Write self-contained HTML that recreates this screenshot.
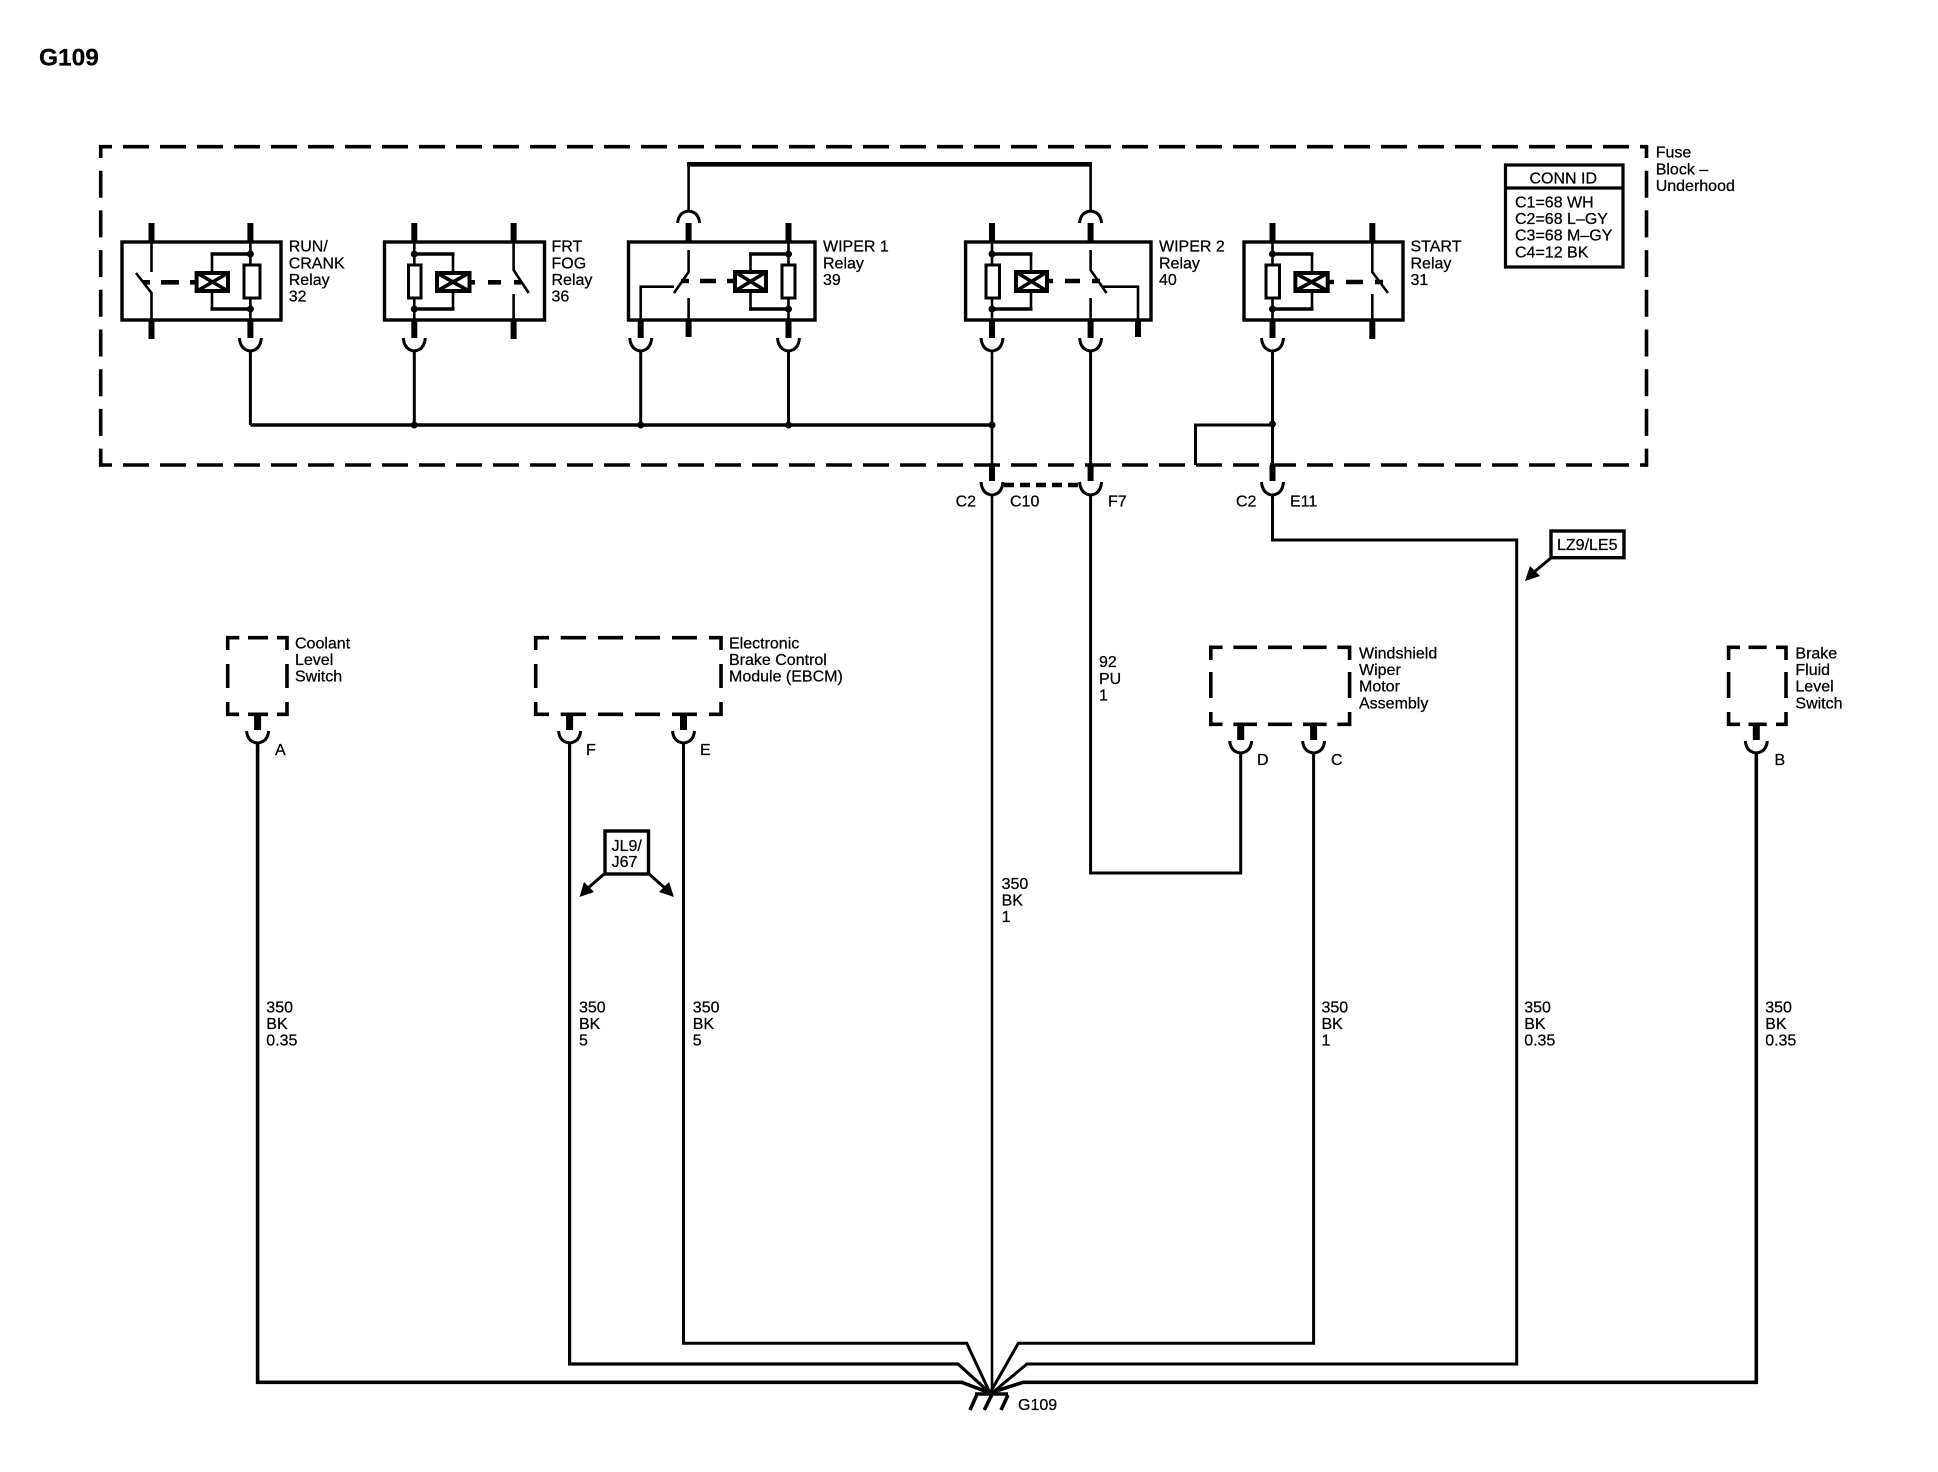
<!DOCTYPE html>
<html><head><meta charset="utf-8"><style>
html,body{margin:0;padding:0;background:#fff;width:1938px;height:1472px;overflow:hidden}
svg{display:block}
text{font-family:"Liberation Sans",sans-serif;font-size:16px;fill:#000;stroke:#000;stroke-width:.25}
.l path,.l line,.l rect{stroke:#000;fill:none}
</style></head><body>
<svg width="1938" height="1472" viewBox="0 0 1938 1472" xmlns="http://www.w3.org/2000/svg">
<rect width="1938" height="1472" fill="#fff"/>
<g class="l" stroke-linejoin="miter">
<!-- outer fuse block -->
<g stroke-width="3.6">
<line x1="99" y1="146.7" x2="1647" y2="146.7" stroke-dasharray="26 11" stroke-dashoffset="13"/>
<line x1="99" y1="465" x2="1647" y2="465" stroke-dasharray="26 11" stroke-dashoffset="13"/>
<line x1="100.7" y1="145" x2="100.7" y2="466.7" stroke-dasharray="27 12.7" stroke-dashoffset="14"/>
<line x1="1646.5" y1="145" x2="1646.5" y2="466.7" stroke-dasharray="27 12.7" stroke-dashoffset="14"/>
</g>
<!-- relay boxes -->
<g stroke-width="3.4">
<rect x="122" y="242" width="159" height="78"/>
<rect x="384.5" y="242" width="160" height="78"/>
<rect x="628.5" y="242" width="186.5" height="78"/>
<rect x="965.6" y="242" width="185.4" height="78"/>
<rect x="1244" y="242" width="159" height="78"/>
</g>
<!-- thick pins -->
<g stroke-width="6">
<path d="M151.5 223V242M151.5 320V339M250.4 223V242M250.4 320V338"/>
<path d="M414.3 223V242M414.3 320V338M513.6 223V242M513.6 320V339"/>
<path d="M688.6 223V242M640.7 320V338M688.6 320V337M788.5 223V242M788.5 320V338"/>
<path d="M992 223V242M992 320V338M1090.6 223V242M1090.6 320V338M1138 320V337"/>
<path d="M1272.5 223V242M1272.5 320V338M1372.3 223V242M1372.3 320V339"/>
<path d="M992 465V481M1090.6 465V481M1272.5 465V481"/>
</g>
<g stroke-width="7">
<path d="M257.6 714V730M569.6 714V730M683.5 714V730M1240.7 724V740M1313.6 724V740M1756.3 724V740"/>
</g>
<!-- sockets -->
<g stroke-width="3">
<path d="M239.4 338Q240.5 350 250.4 351Q260.3 350 261.4 338"/>
<path d="M403.3 338Q404.4 350 414.3 351Q424.2 350 425.3 338"/>
<path d="M629.7 338Q630.8 350 640.7 351Q650.6 350 651.7 338"/>
<path d="M777.5 338Q778.6 350 788.5 351Q798.4 350 799.5 338"/>
<path d="M981 338Q982 350 992 351Q1002 350 1003 338"/>
<path d="M1079.6 338Q1080.6 350 1090.6 351Q1100.6 350 1101.6 338"/>
<path d="M1261.5 338Q1262.5 350 1272.5 351Q1282.5 350 1283.5 338"/>
<path d="M677.6 223Q678.6 212 688.6 211Q698.6 212 699.6 223"/>
<path d="M1079.6 223Q1080.6 212 1090.6 211Q1100.6 212 1101.6 223"/>
<path d="M981 482Q982 494 992 495Q1002 494 1003 482"/>
<path d="M1079.6 482Q1080.6 494 1090.6 495Q1100.6 494 1101.6 482"/>
<path d="M1261.5 482Q1262.5 494 1272.5 495Q1282.5 494 1283.5 482"/>
<path d="M246.6 731Q247.6 742 257.6 743Q267.6 742 268.6 731"/>
<path d="M558.6 731Q559.6 742 569.6 743Q579.6 742 580.6 731"/>
<path d="M672.5 731Q673.5 742 683.5 743Q693.5 742 694.5 731"/>
<path d="M1229.7 741Q1230.7 752 1240.7 753Q1250.7 752 1251.7 741"/>
<path d="M1302.6 741Q1303.6 752 1313.6 753Q1323.6 752 1324.6 741"/>
<path d="M1745.3 741Q1746.3 752 1756.3 753Q1766.3 752 1767.3 741"/>
</g>
<!-- small dashed boxes -->
<g stroke-width="3.6">
<path d="M227.7 650V637.7H239.3M248 637.7H268M277 637.7H287V650M227.7 664V688M287 664V688M227.7 702V714.3H239M248 714.3H268M277 714.3H287V702"/>
<path d="M535.7 650V637.7H549M560.7 637.7H586M598 637.7H623M635 637.7H660M672 637.7H697M709 637.7H721V650M535.7 664V688M721 664V688M535.7 702V714.3H549M560.7 714.3H586M598 714.3H623M635 714.3H660M672 714.3H697M709 714.3H721V702"/>
<path d="M1210.8 660V647.3H1222.5M1233.4 647.3H1257M1268 647.3H1292M1303 647.3H1326.6M1337.4 647.3H1349.6V660M1210.8 672V698M1349.6 672V698M1210.8 712V724.3H1222.5M1233.4 724.3H1257M1268 724.3H1292M1303 724.3H1326.6M1337.4 724.3H1349.6V712"/>
<path d="M1728.6 660V647.3H1740M1748.5 647.3H1766.7M1776 647.3H1786V660M1728.6 672V698M1786 672V698M1728.6 712V724.3H1740M1748.5 724.3H1766.7M1776 724.3H1786V712"/>
</g>
<!-- relay internals -->
<g stroke-width="2.6">
<path d="M151.5 242V272M136 273L151.5 293V320"/>
<path d="M250.4 242V265M250.4 298V320M212 272V254M212 291V309"/>
<path d="M513.6 242V270L528.7 293M513.6 294V320" />
<path d="M414.3 242V265M414.3 298V320M453 272V254M453 291V309"/>
<path d="M688.6 250V272L674 293M688.6 298V320M674 286.7H640.7V320"/>
<path d="M788.5 242V265M788.5 298V320M750.5 272V254M750.5 291V309"/>
<path d="M992 242V265M992 298V320M1031 272V254M1031 291V309"/>
<path d="M1090.6 250V270L1106.5 293M1090.6 298V320M1102 286.7H1138V320"/>
<path d="M1272.5 242V265M1272.5 298V320M1312 272V254M1312 291V309"/>
<path d="M1372.3 242V272L1388 293M1372.3 294V320"/>
</g>
<g stroke-width="3.6">
<path d="M210.5 254H250.4M210.5 309H250.4M454.5 254H414.3M454.5 309H414.3M749 254H788.5M749 309H788.5M1032.5 254H992M1032.5 309H992M1313.5 254H1272.5M1313.5 309H1272.5"/>
</g>
<!-- resistors -->
<g stroke-width="3">
<rect x="244" y="265" width="16" height="33"/>
<rect x="408.5" y="265" width="12.5" height="33"/>
<rect x="782" y="265" width="13" height="33"/>
<rect x="986" y="265" width="13.5" height="33"/>
<rect x="1266" y="265" width="13.5" height="33"/>
</g>
<!-- coils -->
<g stroke-width="4">
<rect x="196.6" y="273" width="31.4" height="18"/>
<rect x="437" y="273" width="32.5" height="18"/>
<rect x="735" y="272" width="31" height="19"/>
<rect x="1016" y="272" width="31" height="19"/>
<rect x="1295.4" y="273" width="32.3" height="18"/>
</g>
<g stroke-width="3.6">
<path d="M197 273L228 291M228 273L197 291M437 273L469 291M469 273L437 291M735 272L766 291M766 272L735 291M1016 272L1047 291M1047 272L1016 291M1295 273L1328 291M1328 273L1295 291"/>
</g>
<!-- actuator dashes -->
<g stroke-width="4.6">
<path d="M143 282.3H150M161 282.3H179M190 282.3H197"/>
<path d="M469.5 282.3H475M488 282.3H501M514 282.3H521"/>
<path d="M681 281H689M700 281H716M727 281H735"/>
<path d="M1047 281H1053M1065 281H1080M1092 281H1100"/>
<path d="M1328 282H1334M1346 282H1363M1375 282H1383"/>
</g>
<!-- main wires -->
<path stroke-width="3" d="M250.4 351V425M414.3 351V425M640.7 351V425M788.5 351V425M1272.5 351V465"/>
<path stroke-width="3.4" d="M250.4 425H992"/>
<path stroke-width="3" d="M1195.5 465V425H1272.5"/>
<path stroke-width="2.6" d="M688.6 212V164.3"/>
<path stroke-width="2.6" d="M1090.6 212V164.3"/>
<path stroke-width="4.6" d="M687 164.3H1092"/>
<path stroke-width="2.6" d="M992 351V465M992 495V1393"/>
<path stroke-width="3" d="M1090.6 351V465M1090.6 495V873H1240.7V753"/>
<path stroke-width="3" d="M1272.5 495V540H1516.7V1364H1027L992 1393"/>
<path stroke-width="4.5" stroke-dasharray="10 6" d="M1004 485H1079"/>
<path stroke-width="3.6" d="M257.6 743V1382.3H961.7L990 1393L1023 1382.3H1756.3V753"/>
<path stroke-width="3.2" d="M569.6 743V1364H958L990 1393"/>
<path stroke-width="3" d="M683.5 743V1343.3H966.7L990 1393L1018.3 1343.3H1313.6V753"/>
<!-- ground -->
<path stroke-width="3.6" d="M975 1394H1008"/>
<path stroke-width="3.6" d="M976.7 1395L970 1410M991.7 1395L984.3 1410M1008 1395L1001 1410"/>
<!-- conn id -->
<rect x="1505.5" y="165" width="117.5" height="102" stroke-width="3.2"/>
<line x1="1505.5" y1="188" x2="1623" y2="188" stroke-width="3.2"/>
<!-- option boxes -->
<rect x="1551" y="531" width="73" height="26.7" stroke-width="3.4"/>
<rect x="605" y="831" width="43.5" height="43" stroke-width="3.4"/>
<path stroke-width="3" d="M1552 557L1533 573M604 874L587 889M649 874L666 889"/>
</g>
<!-- dots -->
<g fill="#000">
<circle cx="250.4" cy="254" r="3.5"/><circle cx="250.4" cy="309" r="3.5"/>
<circle cx="414.3" cy="254" r="3.5"/><circle cx="414.3" cy="309" r="3.5"/>
<circle cx="788.5" cy="254" r="3.5"/><circle cx="788.5" cy="309" r="3.5"/>
<circle cx="992" cy="254" r="3.5"/><circle cx="992" cy="309" r="3.5"/>
<circle cx="1272.5" cy="254" r="3.5"/><circle cx="1272.5" cy="309" r="3.5"/>
<circle cx="414.3" cy="425" r="3.5"/><circle cx="640.7" cy="425" r="3.5"/><circle cx="788.5" cy="425" r="3.5"/><circle cx="992" cy="425" r="3.5"/><circle cx="1272.5" cy="424" r="3.5"/>
<path d="M1525 581L1530 566L1540 576Z"/>
<path d="M579.5 897L584 882L594 892Z"/>
<path d="M674 897L669 882L659 892Z"/>
</g>
<!-- text -->
<text x="39" y="65.5" style="font-size:24.5px;font-weight:bold">G109</text>
<g transform="translate(0,-1)">
<text x="288.7" y="252.7">RUN/</text><text x="288.7" y="269.3">CRANK</text><text x="288.7" y="286">Relay</text><text x="288.7" y="302.7">32</text>
<text x="551.5" y="252.7">FRT</text><text x="551.5" y="269.3">FOG</text><text x="551.5" y="286">Relay</text><text x="551.5" y="302.7">36</text>
<text x="823" y="252.7">WIPER 1</text><text x="823" y="269.3">Relay</text><text x="823" y="286">39</text>
<text x="1159" y="252.7">WIPER 2</text><text x="1159" y="269.3">Relay</text><text x="1159" y="286">40</text>
<text x="1410.5" y="252.7">START</text><text x="1410.5" y="269.3">Relay</text><text x="1410.5" y="286">31</text>
<text x="1655.7" y="158.7">Fuse</text><text x="1655.7" y="175.3">Block –</text><text x="1655.7" y="192">Underhood</text>
<text x="1529.5" y="184.3">CONN ID</text>
<text x="1515" y="208.5">C1=68 WH</text><text x="1515" y="225">C2=68 L–GY</text><text x="1515" y="241.7">C3=68 M–GY</text><text x="1515" y="258.5">C4=12 BK</text>
<text x="295" y="649.3">Coolant</text><text x="295" y="666">Level</text><text x="295" y="682.7">Switch</text>
<text x="729" y="649.3">Electronic</text><text x="729" y="666">Brake Control</text><text x="729" y="682.7">Module (EBCM)</text>
<text x="1359" y="659.3">Windshield</text><text x="1359" y="676">Wiper</text><text x="1359" y="692.7">Motor</text><text x="1359" y="709.3">Assembly</text>
<text x="1795.4" y="659.3">Brake</text><text x="1795.4" y="676">Fluid</text><text x="1795.4" y="692.7">Level</text><text x="1795.4" y="709.3">Switch</text>
<text x="275" y="756">A</text><text x="586" y="756">F</text><text x="700" y="756">E</text>
<text x="1257" y="766">D</text><text x="1331" y="766">C</text><text x="1774.5" y="766">B</text>
</g>
<text x="955.6" y="506.7">C2</text><text x="1010" y="506.7">C10</text><text x="1108" y="506.7">F7</text><text x="1236" y="506.7">C2</text><text x="1290" y="506.7">E11</text>
<text x="1557" y="550">LZ9/LE5</text>
<text x="611.6" y="851">JL9/</text><text x="611.6" y="867.2">J67</text>
<text x="1099" y="667">92</text><text x="1099" y="684">PU</text><text x="1099" y="700.5">1</text>
<text x="1001.6" y="889">350</text><text x="1001.6" y="905.5">BK</text><text x="1001.6" y="922">1</text>
<text x="266.3" y="1012.4">350</text><text x="266.3" y="1029">BK</text><text x="266.3" y="1045.7">0.35</text>
<text x="579" y="1012.4">350</text><text x="579" y="1029">BK</text><text x="579" y="1045.7">5</text>
<text x="692.8" y="1012.4">350</text><text x="692.8" y="1029">BK</text><text x="692.8" y="1045.7">5</text>
<text x="1321.5" y="1012.4">350</text><text x="1321.5" y="1029">BK</text><text x="1321.5" y="1045.7">1</text>
<text x="1524.2" y="1012.4">350</text><text x="1524.2" y="1029">BK</text><text x="1524.2" y="1045.7">0.35</text>
<text x="1765.2" y="1012.4">350</text><text x="1765.2" y="1029">BK</text><text x="1765.2" y="1045.7">0.35</text>
<text x="1018" y="1410">G109</text>
</svg>
</body></html>
